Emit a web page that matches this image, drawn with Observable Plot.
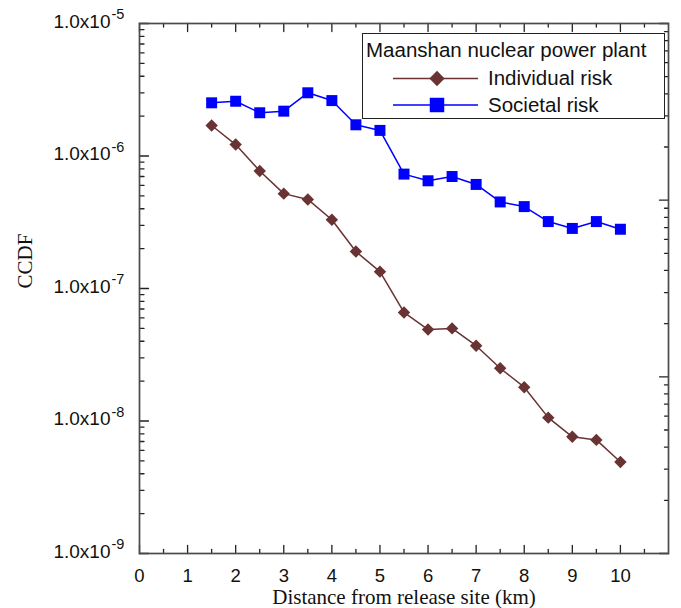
<!DOCTYPE html>
<html>
<head>
<meta charset="utf-8">
<script src="https://cdn.jsdelivr.net/npm/d3@7"></script>
<script src="https://cdn.jsdelivr.net/npm/@observablehq/plot@0.6"></script>
<style>
  html, body { margin: 0; padding: 0; background: #fff; }
  #wrap { position: relative; width: 681px; height: 608px; }
  #legend { position: absolute; left: 362px; top: 33px; }
</style>
</head>
<body>
<div id="wrap"></div>
<script>
// Distance from the release site (km)
const distance = [1.5, 2, 2.5, 3, 3.5, 4, 4.5, 5, 5.5, 6, 6.5, 7, 7.5, 8, 8.5, 9, 9.5, 10];

// Complementary cumulative distribution values
const individualRisk = [1.70e-6, 1.22e-6, 7.7e-7, 5.2e-7, 4.7e-7, 3.3e-7, 1.9e-7, 1.34e-7,
  6.6e-8, 4.9e-8, 5.0e-8, 3.7e-8, 2.5e-8, 1.8e-8, 1.06e-8, 7.6e-9, 7.2e-9, 4.9e-9];
const societalRisk = [2.52e-6, 2.59e-6, 2.12e-6, 2.18e-6, 3.0e-6, 2.62e-6, 1.72e-6, 1.56e-6,
  7.3e-7, 6.5e-7, 7.0e-7, 6.1e-7, 4.5e-7, 4.15e-7, 3.2e-7, 2.84e-7, 3.2e-7, 2.8e-7];

const seriesNames = ["Individual risk", "Societal risk"];
const seriesColors = ["#6a3333", "#0000ff"];
const legendTitle = "Maanshan nuclear power plant";

// Axis ticks and labels
const xTicks = [0, 1, 2, 3, 4, 5, 6, 7, 8, 9, 10];
const xTickLabels = ["0", "1", "2", "3", "4", "5", "6", "7", "8", "9", "10"];
const xMinorTicks = [0.5, 1.5, 2.5, 3.5, 4.5, 5.5, 6.5, 7.5, 8.5, 9.5, 10.5];
const yDecades = [1e-9, 1e-8, 1e-7, 1e-6, 1e-5];
const yMantissa = "1.0x10";
const yExponents = ["-9", "-8", "-7", "-6", "-5"];

const sans = "'Liberation Sans', Arial, Helvetica, sans-serif";
const serif = "'Liberation Serif', 'Times New Roman', serif";

// Minor ticks for a log axis: 2..9 within each decade
function logMinor(lo, hi) {
  const out = [];
  for (let e = lo; e < hi; e++) for (let k = 2; k <= 9; k++) out.push(k * Math.pow(10, e));
  return out;
}
const yMinor = logMinor(-9, -5);

// The right-hand side of the frame carries its own three-decade log ticks
const toPrimary = v => Math.pow(10, -9 + (Math.log10(v) + 3) * 4 / 3);
const rightMajor = [1e-3, 1e-2, 1e-1, 1].map(toPrimary);
const rightMinor = logMinor(-3, 0).map(toPrimary);

const rows = [];
distance.forEach((d, i) => {
  rows.push({distance: d, value: individualRisk[i], series: seriesNames[0]});
  rows.push({distance: d, value: societalRisk[i], series: seriesNames[1]});
});

// A plain straight tick, drawn from the frame edge inward
const tickShape = {draw(context, l) { context.moveTo(0, 0); context.lineTo(0, -l); }};
const tickColor = "#222";
function xTickMarks(data, side, length) {
  return Plot.vector(data, {x: d => d, frameAnchor: side, length, rotate: side === "bottom" ? 0 : 180,
    anchor: "start", shape: tickShape, stroke: tickColor, strokeWidth: 1.3});
}
function yTickMarks(data, side, length) {
  return Plot.vector(data, {y: d => d, frameAnchor: side, length, rotate: side === "left" ? 90 : -90,
    anchor: "start", shape: tickShape, stroke: tickColor, strokeWidth: 1.3});
}

const chart = Plot.plot({
  width: 681,
  height: 608,
  marginLeft: 139,
  marginTop: 23,
  marginRight: 13,
  marginBottom: 55,
  style: {fontFamily: sans, background: "white"},
  x: {domain: [0, 11], axis: null},
  y: {type: "log", domain: [1e-9, 1e-5], axis: null},
  color: {domain: seriesNames, range: seriesColors},
  marks: [
    // ticks pointing into the frame on all four sides
    xTickMarks(xTicks, "bottom", 8),
    xTickMarks(xMinorTicks, "bottom", 4),
    xTickMarks(xTicks, "top", 8),
    xTickMarks(xMinorTicks, "top", 3.5),
    yTickMarks(yDecades, "left", 9),
    yTickMarks(yMinor, "left", 4.5),
    yTickMarks(rightMajor, "right", 9),
    yTickMarks(rightMinor, "right", 4),
    Plot.frame({stroke: "#4a4a4a", strokeWidth: 1.7}),

    // tick labels
    Plot.text(xTicks, {x: d => d, text: (d, i) => xTickLabels[i], frameAnchor: "bottom", dy: 23,
      lineAnchor: "middle", fontSize: 18.5, fill: "#111"}),
    Plot.text(yDecades, {y: d => d, text: () => yMantissa, frameAnchor: "left", dx: -29, dy: -2,
      textAnchor: "end", lineAnchor: "middle", fontSize: 19, fill: "#111"}),
    Plot.text(yDecades, {y: d => d, text: (d, i) => yExponents[i], frameAnchor: "left", dx: -28, dy: -9,
      textAnchor: "start", lineAnchor: "middle", fontSize: 14.5, fill: "#111"}),

    // axis titles
    Plot.text([0], {text: () => "Distance from release site (km)", frameAnchor: "bottom", dy: 44,
      lineAnchor: "middle", fontFamily: serif, fontSize: 21, fill: "#111"}),
    Plot.text([0], {text: () => "CCDF", frameAnchor: "left", dx: -114, rotate: -90,
      lineAnchor: "middle", fontFamily: serif, fontSize: 21, fill: "#111"}),

    // series
    Plot.line(rows, {x: "distance", y: "value", z: "series", stroke: "series", strokeWidth: 1.5}),
    Plot.dot(rows.filter(r => r.series === seriesNames[0]),
      {x: "distance", y: "value", symbol: "diamond2", r: 5.6, fill: seriesColors[0], stroke: null}),
    Plot.dot(rows.filter(r => r.series === seriesNames[1]),
      {x: "distance", y: "value", symbol: "square", r: 6.2, fill: seriesColors[1], stroke: null})
  ]
});

const wrap = document.getElementById("wrap");
wrap.appendChild(chart);

// Legend box drawn inside the frame, top right
const lg = d3.select(wrap).append("svg")
  .attr("id", "legend")
  .attr("width", 304).attr("height", 87)
  .style("font-family", sans);
lg.append("rect").attr("x", 0.5).attr("y", 0.5).attr("width", 302).attr("height", 85)
  .attr("fill", "white").attr("stroke", "#222").attr("stroke-width", 1);
lg.append("text").attr("x", 4).attr("y", 24).attr("font-size", 20.5).attr("fill", "#111").text(legendTitle);
const symbols = [d3.symbolDiamond2, d3.symbolSquare];
const symbolSizes = [150, 210];
seriesNames.forEach((name, i) => {
  const y = 45.5 + i * 26.5;
  lg.append("line").attr("x1", 31).attr("x2", 116).attr("y1", y).attr("y2", y)
    .attr("stroke", seriesColors[i]).attr("stroke-width", 1.5);
  lg.append("path").attr("d", d3.symbol(symbols[i], symbolSizes[i])())
    .attr("transform", `translate(75,${y})`).attr("fill", seriesColors[i]);
  lg.append("text").attr("x", 126).attr("y", y + 6.5).attr("font-size", 20.5).attr("fill", "#111").text(name);
});
</script>
</body>
</html>
